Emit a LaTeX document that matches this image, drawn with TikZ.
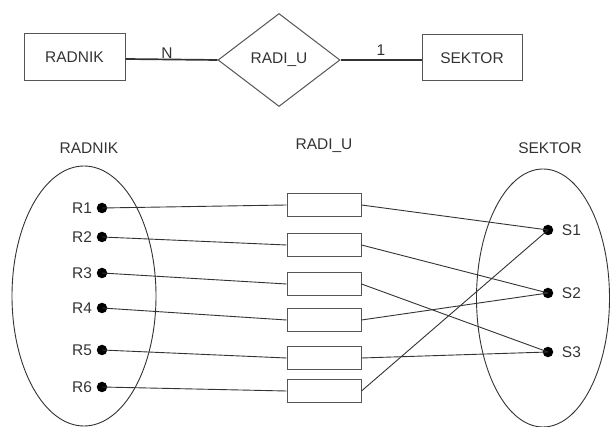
\documentclass[tikz,border=0pt]{standalone}
\usepackage{fontspec}
\setmainfont{Liberation Sans}
\usetikzlibrary{shapes.geometric,positioning}
\definecolor{ink}{HTML}{333333}
\definecolor{edge}{HTML}{555555}
\begin{document}
\begin{tikzpicture}[x=1pt,y=-1pt,
  txt/.style={font=\fontsize{15.5}{17}\selectfont, text=ink},
  entbox/.style={draw=edge, line width=1pt, minimum width=101pt, minimum height=47pt, inner sep=0pt, txt},
  relshape/.style={diamond, draw=edge, line width=1pt, minimum width=122pt, minimum height=93pt, inner sep=0pt, txt},
  setell/.style={ellipse, draw=ink, line width=0.9pt, inner sep=0pt},
  dot/.style={circle, fill=black, inner sep=0pt, minimum size=10.5pt},
  pairbox/.style={draw=edge, line width=1pt, minimum width=74pt, minimum height=23pt, inner sep=0pt},
  conn/.style={draw=ink, line width=0.9pt},
  thick conn/.style={draw=ink, line width=1.7pt}
]
\useasboundingbox (0,0) rectangle (611,427);

% ER diagram
\node[entbox] (radnik) at (74.5,57) {RADNIK};
\node[relshape] (radiu) at (279,60) {RADI\_U};
\node[entbox, minimum width=100pt, minimum height=46pt] (sektor) at (472,58) {SEKTOR};
\draw[thick conn] (radnik.east |- 0,59) coordinate (ra) -- (radiu.west) node[pos=0.45, above=-3pt, txt] {N};
\draw[thick conn] (radiu.east) -- (sektor.west |- 0,60) node[pos=0.5, above=0pt, txt] {1};

% titles
\node[txt] (tr) at (89,148) {RADNIK};
\node[txt] (tm) at (324,146) {RADI\_U};
\node[txt] (ts) at (550,148) {SEKTOR};

% sets
\node[setell, minimum width=144pt, minimum height=260pt] (er) at (84,296) {};
\node[setell, minimum width=133pt, minimum height=258pt] (es) at (543,298) {};

% R dots
\foreach \i/\y in {1/208,2/237,3/273,4/308,5/350,6/387}{
  \node[dot, label={[txt, label distance=1pt]left:R\i}] (r\i) at (102,\y) {};
}
% S dots
\foreach \i/\y in {1/230,2/293,3/352}{
  \node[dot, label={[txt, label distance=5pt]right:S\i}] (s\i) at (548,\y) {};
}
% pair boxes
\foreach \i/\y in {1/205,2/245,3/284,4/320,5/358,6/391}{
  \node[pairbox] (b\i) at (324,\y) {};
}

% connectors
\foreach \i in {1,...,6}{ \draw[conn] (r\i.center) -- (b\i.west); }
\draw[conn] (b1.east) -- (s1.center);
\draw[conn] (b2.east) -- (s2.center);
\draw[conn] (b3.east) -- (s3.center);
\draw[conn] (b4.east) -- (s2.center);
\draw[conn] (b5.east) -- (s3.center);
\draw[conn] (b6.east) -- (s1.center);
\end{tikzpicture}
\end{document}
